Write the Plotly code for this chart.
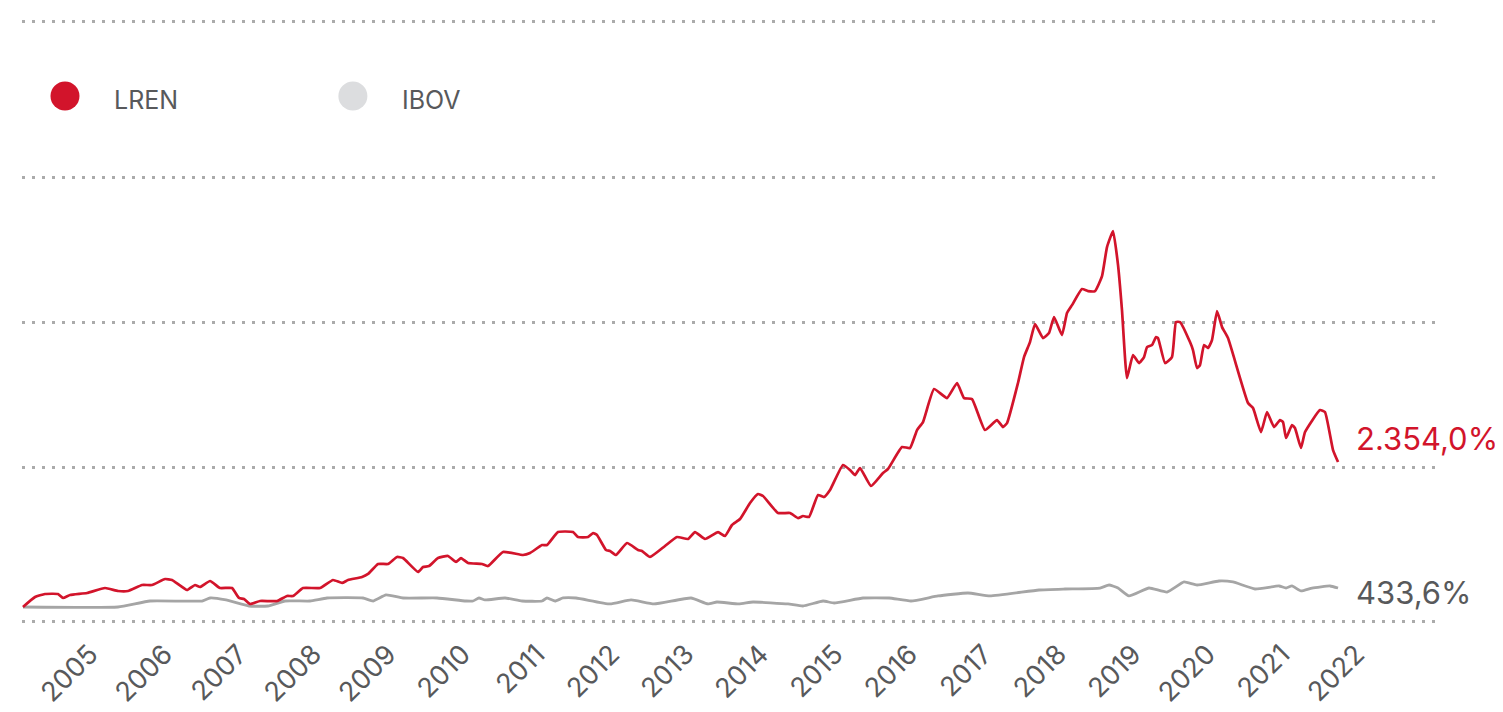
import plotly.graph_objects as go

# ---- data (x = decimal year, y = cumulative return in %) ----
lren_t = [2004.10, 2004.262, 2004.396, 2004.570, 2004.638, 2004.732, 2004.960, 2005.201, 2005.376, 2005.510,
          2005.698, 2005.832, 2006.007, 2006.101, 2006.302, 2006.409, 2006.477, 2006.611, 2006.745, 2006.906,
          2007.000, 2007.067, 2007.148, 2007.282, 2007.510, 2007.644, 2007.725, 2007.859, 2008.087, 2008.262,
          2008.383, 2008.463, 2008.651, 2008.732, 2008.866, 2009.000, 2009.121, 2009.201, 2009.403, 2009.470,
          2009.550, 2009.671, 2009.805, 2009.913, 2009.980, 2010.074, 2010.262, 2010.342, 2010.544, 2010.812,
          2010.906, 2011.067, 2011.134, 2011.282, 2011.483, 2011.550, 2011.685, 2011.752, 2011.805, 2011.926,
          2011.980, 2012.060, 2012.208, 2012.356, 2012.409, 2012.517, 2012.718, 2012.879, 2013.027, 2013.121,
          2013.255, 2013.430, 2013.523, 2013.617, 2013.725, 2013.859, 2013.966, 2014.034, 2014.235, 2014.396,
          2014.503, 2014.570, 2014.651, 2014.772, 2014.852, 2014.933, 2015.107, 2015.201, 2015.268, 2015.336,
          2015.483, 2015.644, 2015.711, 2015.899, 2016.007, 2016.101, 2016.181, 2016.329, 2016.503, 2016.638,
          2016.732, 2016.839, 2017.013, 2017.174, 2017.255, 2017.309, 2017.456, 2017.537, 2017.617, 2017.685,
          2017.792, 2017.872, 2017.940, 2018.047, 2018.114, 2018.181, 2018.315, 2018.396, 2018.490, 2018.584,
          2018.651, 2018.732, 2018.799, 2018.852, 2018.919, 2019.000, 2019.081, 2019.148, 2019.188, 2019.255,
          2019.309, 2019.336, 2019.430, 2019.523, 2019.577, 2019.631, 2019.765, 2019.805, 2019.859, 2019.899,
          2019.953, 2020.007, 2020.060, 2020.128, 2020.195, 2020.275, 2020.544, 2020.611, 2020.718, 2020.799,
          2020.893, 2020.973, 2021.013, 2021.054, 2021.134, 2021.174, 2021.255, 2021.309, 2021.510, 2021.577,
          2021.685, 2021.752]
lren_v = [0, 162, 211, 211, 146, 195, 227, 308, 260, 260,
          357, 357, 454, 438, 276, 357, 325, 422, 308, 308,
          146, 130, 49, 97, 97, 179, 179, 308, 308, 438,
          390, 438, 487, 536, 698, 698, 812, 795, 568, 649,
          665, 795, 828, 730, 795, 714, 698, 665, 893, 844,
          876, 1006, 1006, 1217, 1217, 1136, 1136, 1201, 1169, 925,
          909, 844, 1039, 925, 909, 812, 990, 1136, 1104, 1217,
          1104, 1217, 1152, 1331, 1428, 1688, 1834, 1802, 1526, 1526,
          1444, 1477, 1461, 1818, 1785, 1899, 2305, 2224, 2142, 2256,
          1964, 2175, 2240, 2597, 2581, 2873, 3003, 3538, 3392, 3636,
          3392, 3376, 2873, 3035, 2921, 2986, 3636, 4058, 4301, 4593,
          4366, 4447, 4707, 4415, 4772, 4901, 5161, 5129, 5129, 5372,
          5843, 6102, 5551, 4820, 3717, 4090, 3960, 4058, 4220, 4252,
          4382, 4366, 3960, 4058, 4626, 4626, 4301, 4171, 3879, 3928,
          4252, 4204, 4333, 4804, 4544, 4366, 3311, 3230, 2840, 3165,
          2921, 3035, 3003, 2743, 2954, 2905, 2581, 2840, 3197, 3165,
          2548, 2354]

ibov_t = [2004.10, 2005.376, 2005.805, 2006.503, 2006.611, 2006.826, 2007.134, 2007.389, 2007.617, 2007.953,
          2008.181, 2008.664, 2008.799, 2008.973, 2009.201, 2009.658, 2010.047, 2010.141, 2010.221, 2010.302,
          2010.570, 2010.799, 2011.067, 2011.134, 2011.242, 2011.349, 2011.523, 2011.980, 2012.262, 2012.570,
          2013.067, 2013.295, 2013.416, 2013.711, 2013.899, 2014.369, 2014.570, 2014.839, 2014.987, 2015.376,
          2015.725, 2016.020, 2016.383, 2016.785, 2017.081, 2017.738, 2018.087, 2018.557, 2018.678, 2018.799,
          2018.946, 2019.215, 2019.456, 2019.685, 2019.859, 2020.154, 2020.342, 2020.638, 2020.960, 2021.054,
          2021.134, 2021.255, 2021.403, 2021.644, 2021.752]
ibov_v = [0, 0, 97, 97, 146, 114, 16, 16, 97, 97,
          146, 146, 97, 195, 146, 146, 97, 97, 146, 114,
          146, 97, 97, 146, 97, 146, 146, 49, 114, 49,
          146, 49, 81, 49, 81, 49, 16, 97, 65, 146,
          146, 97, 179, 227, 179, 276, 292, 308, 357, 308,
          179, 308, 243, 406, 357, 422, 406, 292, 341, 308,
          341, 260, 308, 341, 308]

years = list(range(2005, 2023))
series_names = ["LREN", "IBOV"]
final_labels = ["2.354,0%", "433,6%"]
grid_values = [-243, 2272, 4626, 6979, 9511]

RED = "#d2142b"
GRAY_LINE = "#a5a5a5"
LEGEND_GRAY = "#dcdddf"
TEXT = "#58595b"
FONT = "Inter"

fig = go.Figure()
fig.add_trace(go.Scatter(x=ibov_t, y=ibov_v, mode="lines", name=series_names[1],
                         line=dict(color=GRAY_LINE, width=2.8, shape="spline", smoothing=0.4),
                         hoverinfo="skip"))
fig.add_trace(go.Scatter(x=lren_t, y=lren_v, mode="lines", name=series_names[0],
                         line=dict(color=RED, width=2.7, shape="spline", smoothing=0.4),
                         hoverinfo="skip"))

# end-of-line value labels
fig.add_annotation(x=0.942, xref="paper", y=2740, yref="y", text=final_labels[0],
                   showarrow=False, xanchor="left", yanchor="middle",
                   font=dict(family=FONT, size=31, color=RED))
fig.add_annotation(x=0.942, xref="paper", y=243, yref="y", text=final_labels[1],
                   showarrow=False, xanchor="left", yanchor="middle",
                   font=dict(family=FONT, size=31, color=TEXT))

# custom legend
for cx, tx, col, name in [(0.0304, 0.0635, RED, series_names[0]),
                          (0.234, 0.2671, LEGEND_GRAY, series_names[1])]:
    fig.add_shape(type="circle", xref="paper", yref="paper", xsizemode="pixel", ysizemode="pixel",
                  xanchor=cx, yanchor=0.874, x0=-14.5, x1=14.5, y0=-14.5, y1=14.5,
                  fillcolor=col, line=dict(width=0))
    fig.add_annotation(x=tx, xref="paper", y=0.867, yref="paper", text=name, showarrow=False,
                       xanchor="left", yanchor="middle", font=dict(family=FONT, size=25, color=TEXT))

fig.update_layout(
    width=1503, height=712,
    margin=dict(l=14, r=75, t=12, b=97, autoexpand=False),
    paper_bgcolor="white", plot_bgcolor="white",
    showlegend=False,
    font=dict(family=FONT, color=TEXT),
    xaxis=dict(range=[2004.087, 2023.067], tickvals=years, ticktext=[str(y) for y in years],
               tickangle=-45, showgrid=False, zeroline=False, showline=False, ticks="",
               ticklabelstandoff=9, automargin=False,
               tickfont=dict(family=FONT, size=27, color=TEXT), fixedrange=True),
    yaxis=dict(range=[-260, 9530], tickvals=grid_values, showticklabels=False, automargin=False,
               showgrid=True, gridcolor="#ababab", gridwidth=3, griddash="3px,7px",
               zeroline=False, showline=False, ticks="", fixedrange=True),
)

fig.write_html("out.html")
